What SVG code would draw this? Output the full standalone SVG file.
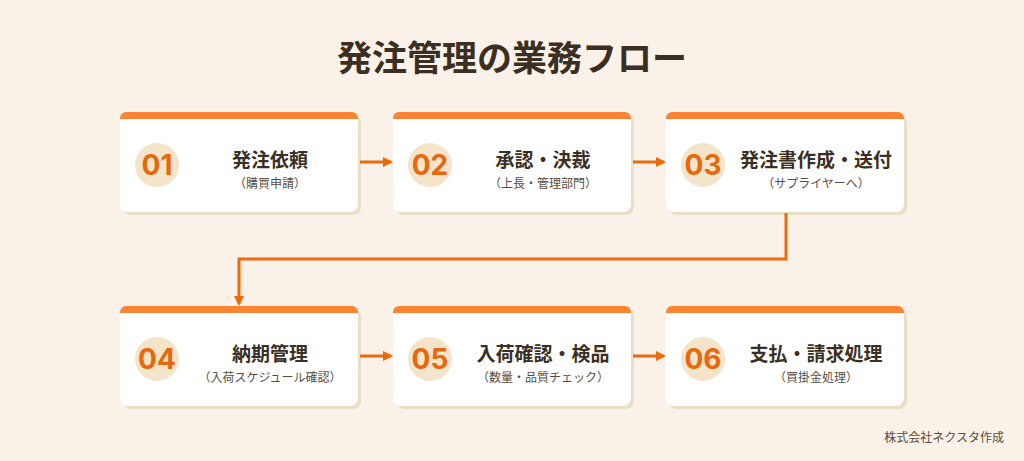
<svg xmlns="http://www.w3.org/2000/svg" width="1024" height="461" viewBox="0 0 1024 461">
<style>
.sh{fill:#e9dfc6}.card{fill:#fff}.bar{fill:#fd8433}.circ{fill:#f4e4c9}
.num{font-family:Inter,"Noto Sans",sans-serif;font-weight:700;font-size:28px;fill:#e8680e;text-anchor:middle}
.t{font-family:"Noto Sans CJK JP",sans-serif;font-weight:700;font-size:19px;fill:#3b2f24;text-anchor:middle}
.s{font-family:"Noto Sans CJK JP",sans-serif;font-size:12px;fill:#5a4c40;text-anchor:middle}
.ln{stroke:#ea6a0c;stroke-width:3;fill:none}
</style>
<defs>
<marker id="ah" markerWidth="10" markerHeight="10" refX="8" refY="5" orient="auto" markerUnits="userSpaceOnUse"><path d="M0,0L10,5L0,10z" fill="#ea6a0c"/></marker>
<g id="c"><rect class="sh" x="3" y="3" width="238" height="100" rx="8"/><rect class="card" x="0" y="0" width="238" height="100" rx="8"/><path class="bar" d="M0,7V6a6,6 0 0 1 6,-6H232a6,6 0 0 1 6,6v1z"/><circle class="circ" cx="37" cy="53" r="22"/></g>
</defs>
<rect width="1024" height="461" fill="#faf2e8"/>
<text x="512" y="71" font-family="'Noto Sans CJK JP',sans-serif" font-weight="700" font-size="35" fill="#3b2f24" text-anchor="middle">発注管理の業務フロー</text>
<g id="n1"><use href="#c" x="120" y="112"/><text class="num" x="157" y="175">01</text><text class="t" x="270" y="167">発注依頼</text><text class="s" x="270" y="188">（購買申請）</text></g>
<g id="n2"><use href="#c" x="393" y="112"/><text class="num" x="430" y="175">02</text><text class="t" x="543" y="167">承認・決裁</text><text class="s" x="543" y="188">（上長・管理部門）</text></g>
<g id="n3"><use href="#c" x="666" y="112"/><text class="num" x="703" y="175">03</text><text class="t" x="816" y="167">発注書作成・送付</text><text class="s" x="816" y="188">（サプライヤーへ）</text></g>
<g id="n4"><use href="#c" x="120" y="306"/><text class="num" x="157" y="369">04</text><text class="t" x="270" y="361">納期管理</text><text class="s" x="270" y="382">（入荷スケジュール確認）</text></g>
<g id="n5"><use href="#c" x="393" y="306"/><text class="num" x="430" y="369">05</text><text class="t" x="543" y="361">入荷確認・検品</text><text class="s" x="543" y="382">（数量・品質チェック）</text></g>
<g id="n6"><use href="#c" x="666" y="306"/><text class="num" x="703" y="369">06</text><text class="t" x="816" y="361">支払・請求処理</text><text class="s" x="816" y="382">（買掛金処理）</text></g>
<g id="edges">
<line class="ln" x1="360" y1="162" x2="391" y2="162" marker-end="url(#ah)"/>
<line class="ln" x1="633" y1="162" x2="664" y2="162" marker-end="url(#ah)"/>
<path class="ln" d="M786,213V259H239V304" marker-end="url(#ah)"/>
<line class="ln" x1="360" y1="356" x2="391" y2="356" marker-end="url(#ah)"/>
<line class="ln" x1="633" y1="356" x2="664" y2="356" marker-end="url(#ah)"/>
</g>
<text x="1004" y="442" font-family="'Noto Sans CJK JP',sans-serif" font-size="12" fill="#5a4c40" text-anchor="end">株式会社ネクスタ作成</text>
</svg>
